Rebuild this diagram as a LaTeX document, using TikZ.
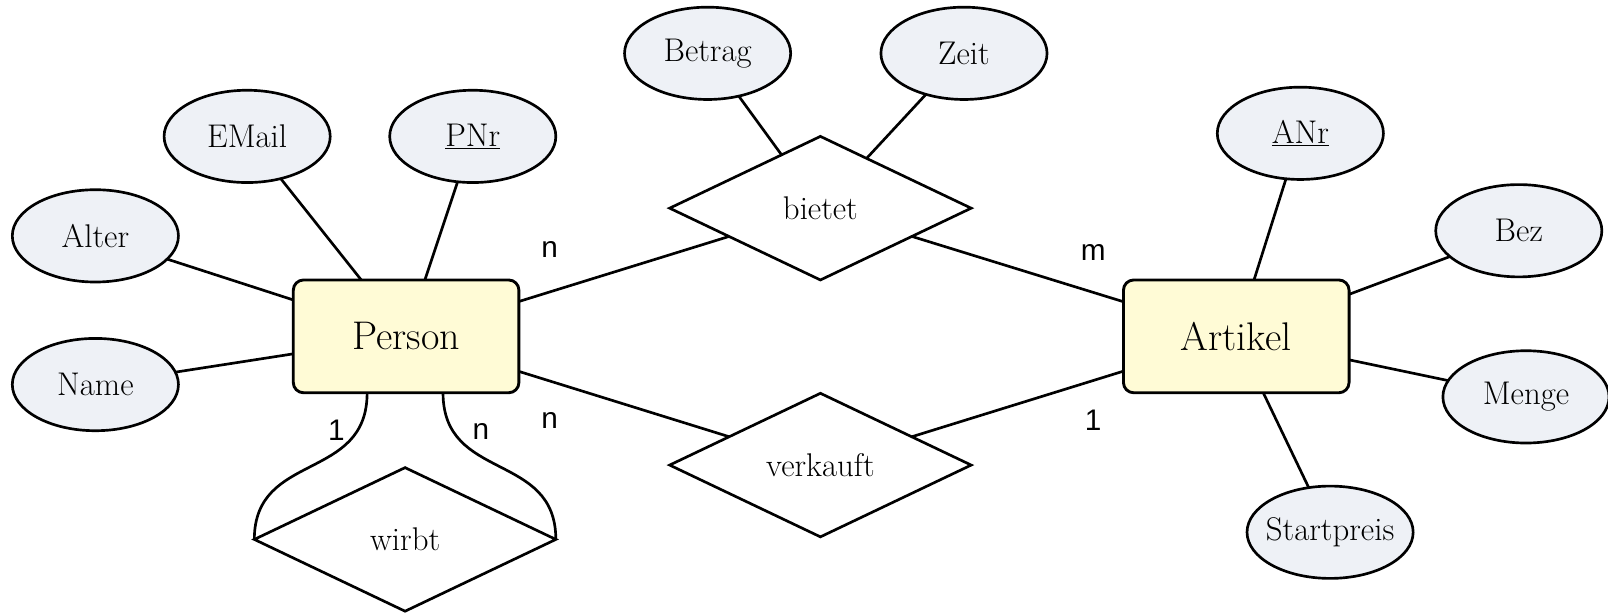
\documentclass[tikz,border=0pt]{standalone}
\usepackage{fontspec}
\newfontfamily\lblfont{Liberation Sans}
\usetikzlibrary{shapes.geometric}
\definecolor{entfill}{HTML}{FFFBD6}
\definecolor{attfill}{HTML}{EEF1F6}
\begin{document}
\begin{tikzpicture}[x=1pt,y=-1pt,
  entity/.style={draw,line width=2.8pt,rounded corners=10pt,fill=entfill,
    minimum width=220pt,minimum height=110pt,inner sep=0pt,outer sep=0pt,
    font=\fontsize{39}{44}\selectfont},
  attr/.style={draw,ellipse,line width=2.6pt,fill=attfill,
    minimum width=162pt,minimum height=90pt,inner sep=0pt,outer sep=0pt,
    font=\fontsize{32}{36}\selectfont},
  rel/.style={draw,diamond,line width=2.6pt,fill=white,
    minimum width=294pt,minimum height=140pt,inner sep=0pt,outer sep=0pt,
    font=\fontsize{32}{36}\selectfont},
  card/.style={inner sep=0pt,font=\lblfont\fontsize{29}{34}\selectfont},
  conn/.style={line width=2.6pt}]
\useasboundingbox (0,0) rectangle (1568,597);

\node[entity] (person) at (396,328) {Person};
\node[entity] (artikel) at (1205.5,328) {Artikel};
\node[rel] (bietet) at (800,203) {bietet};
\node[rel] (verkauft) at (800,453.5) {verkauft};
\node[rel] (wirbt) at (395,526) {wirbt};

\node[attr] (alter) at (93,230) {Alter};
\node[attr] (name) at (93,375) {Name};
\node[attr] (email) at (241,133) {EMail};
\node[attr] (pnr) at (461,133) {\underline{PNr}};
\node[attr] (betrag) at (690,52) {Betrag};
\node[attr] (zeit) at (940,52) {Zeit};
\node[attr] (anr) at (1268,130) {\underline{ANr}};
\node[attr] (bez) at (1481,225) {Bez};
\node[attr] (menge) at (1488,387) {Menge};
\node[attr,inner xsep=-12pt] (start) at (1297,519) {Startpreis};

\draw[conn] (alter) -- (person);
\draw[conn] (name) -- (person);
\draw[conn] (email) -- (person);
\draw[conn] (pnr) -- (person);
\draw[conn] (person) -- (bietet);
\draw[conn] (bietet) -- (artikel);
\draw[conn] (person) -- (verkauft);
\draw[conn] (verkauft) -- (artikel);
\draw[conn] (betrag) -- (bietet);
\draw[conn] (zeit) -- (bietet);
\draw[conn] (anr) -- (artikel);
\draw[conn] (bez) -- (artikel);
\draw[conn] (menge) -- (artikel);
\draw[conn] (start) -- (artikel);

\draw[conn] ([xshift=-38pt]person.south) .. controls +(0,87) and +(0,-86) .. (wirbt.west);
\draw[conn] ([xshift=36pt]person.south) .. controls +(0,87) and +(0,-86) .. (wirbt.east);

\node[card] (c1) at (536,243) {n};
\node[card] (c2) at (1066,246) {m};
\node[card] (c3) at (536,410) {n};
\node[card] (c4) at (1066,410) {1};
\node[card] (c5) at (328,420) {1};
\node[card] (c6) at (469,421) {n};
\end{tikzpicture}
\end{document}
